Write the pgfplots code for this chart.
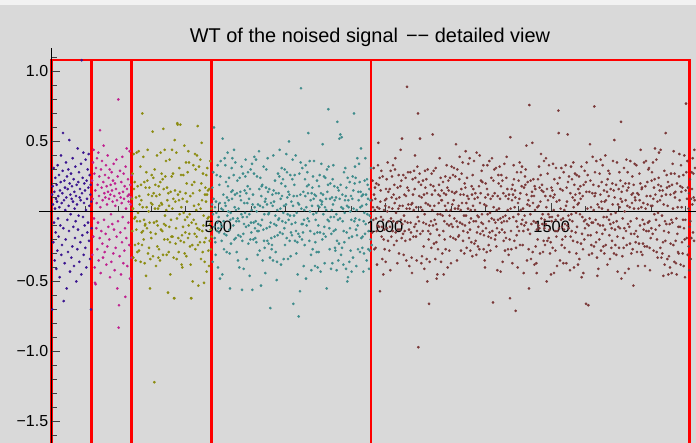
\documentclass[border=0pt]{standalone}
\usepackage{pgfplots}
\pgfplotsset{compat=1.18}
\usepackage{fontspec}
\setmainfont{Liberation Sans}
\definecolor{cblue}{RGB}{58,20,144}
\definecolor{cmag}{RGB}{192,32,143}
\definecolor{colive}{RGB}{140,140,16}
\definecolor{cteal}{RGB}{62,140,140}
\definecolor{cbrown}{RGB}{122,56,56}
\definecolor{bgc}{RGB}{217,217,217}
\definecolor{topc}{RGB}{242,242,242}
\begin{document}
\begin{tikzpicture}
\fill[bgc] (-39bp,0bp) rectangle (657bp,443bp);
\fill[topc] (-39bp,438bp) rectangle (657bp,443bp);
\begin{axis}[
  at={(0,0)}, anchor=south west,
  scale only axis, width=657bp, height=394.8bp,
  xmin=-38, xmax=1933, ymin=-1.654, ymax=1.166,
  axis lines=middle, axis line style={black, line width=0.8bp, -},
  axis on top, clip=true,
  tick align=inside,
  xtick={500,1000,1500}, xticklabels={500,1000,1500},
  minor xtick={100,200,300,400,600,700,800,900,1100,1200,1300,1400,1600,1700,1800,1900},
  ytick={-1.5,-1,-0.5,0.5,1}, yticklabels={−1.5,−1.0,−0.5,0.5,1.0},
  minor ytick={-1.6,-1.4,-1.3,-1.2,-1.1,-0.9,-0.8,-0.7,-0.6,-0.4,-0.3,-0.2,-0.1,0.1,0.2,0.3,0.4,0.6,0.7,0.8,0.9,1.1},
  major tick length=8bp, minor tick length=5bp,
  every tick/.style={black!75, line width=0.8bp},
  xticklabel style={font=\fontsize{16.5}{16.5}\selectfont, anchor=north, yshift=-6bp},
  yticklabel style={font=\fontsize{16}{16}\selectfont},
  every axis plot/.append style={mark size=1.2bp, line width=0.3bp},
]
\addplot[red, line width=2.6bp, line join=miter] coordinates {(0,-2)(0,1.083)(1913,1.083)(1913,-2)};
\addplot[red, line width=2.6bp] coordinates {(120,-2)(120,1.083)};
\addplot[red, line width=2.6bp] coordinates {(240,-2)(240,1.083)};
\addplot[red, line width=2.6bp] coordinates {(479,-2)(479,1.083)};
\addplot[red, line width=2.6bp] coordinates {(958,-2)(958,1.083)};
% blue level, x = 1..120
\addplot[only marks, mark=*, cblue] table[header=false, row sep=\\, x expr=\coordindex+1, y index=0] {
0.12\\-0.70\\0.18\\0.05\\-0.22\\0.31\\-0.08\\0.14\\-0.35\\0.02\\
0.24\\-0.15\\0.09\\-0.41\\0.19\\0.07\\-0.28\\0.33\\-0.05\\0.11\\
-0.18\\0.26\\0.03\\-0.47\\0.15\\-0.10\\0.21\\0.40\\-0.31\\0.06\\
-0.24\\0.13\\0.29\\0.56\\-0.12\\-0.64\\0.08\\0.22\\-0.37\\0.17\\
0.01\\-0.20\\0.35\\0.10\\-0.55\\0.25\\-0.06\\0.16\\-0.29\\0.30\\
0.04\\-0.14\\0.51\\0.20\\-0.43\\0.12\\-0.02\\0.27\\-0.33\\0.09\\
0.18\\-0.25\\0.38\\0.07\\-0.11\\0.23\\-0.39\\0.14\\0.02\\-0.19\\
0.32\\-0.07\\0.11\\-0.50\\0.19\\0.05\\-0.27\\0.45\\-0.13\\0.21\\
-0.03\\0.28\\-0.36\\0.10\\0.16\\-0.22\\0.08\\0.34\\-0.45\\1.08\\
0.13\\-0.17\\0.24\\-0.04\\0.42\\-0.31\\0.06\\0.20\\-0.10\\0.15\\
-0.26\\0.37\\0.01\\-0.40\\0.22\\0.09\\-0.15\\0.30\\-0.08\\0.17\\
0.41\\-0.21\\0.04\\0.26\\-0.34\\0.12\\0.19\\-0.70\\0.07\\-0.12\\
};
% magenta level, x = 121..240
\addplot[only marks, mark=*, cmag] table[header=false, row sep=\\, x expr=\coordindex+121, y index=0] {
0.22\\-0.31\\0.09\\0.35\\-0.18\\0.44\\-0.05\\0.27\\-0.40\\-0.51\\
0.15\\-0.52\\0.31\\-0.12\\0.06\\0.38\\-0.27\\0.19\\-0.08\\0.42\\
-0.35\\0.11\\0.25\\-0.19\\0.58\\0.03\\-0.44\\0.30\\-0.14\\0.17\\
0.36\\-0.23\\0.08\\-0.33\\0.21\\0.47\\-0.06\\0.13\\-0.29\\0.26\\
0.10\\-0.16\\0.33\\-0.38\\0.18\\0.05\\-0.25\\0.40\\0.14\\-0.11\\
0.24\\0.09\\-0.20\\0.30\\-0.47\\0.12\\0.19\\-0.02\\-0.36\\0.28\\
0.15\\-0.09\\0.07\\0.22\\-0.30\\0.34\\-0.13\\0.11\\-0.42\\0.20\\
0.04\\-0.26\\0.16\\0.37\\-0.18\\0.08\\-0.55\\0.25\\-0.07\\0.80\\
-0.83\\-0.67\\0.13\\-0.32\\0.29\\-0.15\\0.10\\-0.45\\0.21\\0.06\\
-0.22\\0.39\\-0.04\\0.14\\-0.37\\0.27\\0.09\\-0.28\\0.18\\-0.12\\
-0.61\\0.32\\0.02\\-0.19\\0.45\\0.16\\-0.39\\0.11\\0.23\\-0.08\\
0.07\\0.12\\-0.24\\0.43\\-0.48\\0.19\\0.05\\0.10\\-0.33\\0.26\\
};
% olive level, x = 241..480
\addplot[only marks, mark=*, colive] table[header=false, row sep=\\, x expr=\coordindex+241, y index=0] {
0.09\\-0.14\\0.27\\0.02\\-0.33\\0.41\\0.16\\-0.05\\0.21\\-0.24\\
-0.04\\-0.35\\0.10\\-0.13\\0.42\\-0.07\\-0.29\\0.18\\-0.01\\-0.23\\
0.43\\-0.28\\0.11\\0.05\\-0.07\\0.32\\-0.36\\0.19\\0.08\\-0.15\\
-0.24\\0.70\\0.03\\-0.14\\0.39\\-0.20\\-0.06\\0.21\\-0.37\\-0.10\\
-0.09\\0.17\\-0.46\\0.28\\0.03\\-0.12\\0.22\\0.44\\-0.30\\0.12\\
0.00\\-0.26\\0.17\\-0.08\\-0.55\\-0.34\\-0.15\\0.06\\-0.19\\0.26\\
0.11\\0.05\\0.57\\-0.32\\0.24\\0.13\\-0.08\\-1.22\\0.30\\0.02\\
0.19\\-0.16\\-0.39\\0.11\\-0.07\\0.40\\-0.25\\-0.10\\0.02\\-0.33\\
0.18\\-0.27\\0.04\\0.12\\-0.35\\0.21\\0.42\\-0.13\\0.06\\0.27\\
0.05\\-0.14\\0.23\\-0.31\\0.59\\0.16\\-0.09\\-0.20\\0.44\\-0.03\\
0.25\\-0.10\\0.36\\0.01\\-0.31\\0.17\\0.08\\-0.20\\-0.58\\0.13\\
-0.29\\0.04\\-0.11\\0.37\\-0.22\\-0.45\\0.14\\-0.06\\-0.18\\0.25\\
0.44\\0.02\\-0.18\\0.27\\0.09\\-0.33\\-0.62\\-0.62\\0.51\\0.15\\
0.07\\-0.23\\-0.12\\0.42\\-0.34\\-0.05\\0.63\\0.62\\0.12\\-0.19\\
-0.29\\0.08\\0.31\\-0.02\\0.14\\0.62\\-0.21\\0.26\\0.03\\-0.38\\
-0.17\\-0.40\\0.09\\-0.11\\0.26\\-0.01\\-0.22\\0.47\\-0.30\\-0.06\\
-0.15\\0.13\\0.35\\-0.32\\0.20\\0.07\\-0.04\\0.28\\-0.19\\0.43\\
-0.10\\0.35\\-0.16\\-0.02\\-0.25\\0.11\\-0.38\\-0.62\\-0.62\\-0.08\\
0.19\\-0.24\\-0.50\\0.13\\0.33\\-0.06\\0.04\\0.21\\-0.16\\0.41\\
-0.27\\0.30\\-0.09\\0.01\\-0.18\\0.40\\-0.12\\0.61\\-0.24\\-0.53\\
0.05\\0.32\\-0.13\\0.15\\-0.22\\0.37\\0.02\\-0.34\\0.20\\0.49\\
0.08\\-0.14\\-0.29\\0.27\\-0.10\\-0.03\\-0.51\\-0.22\\-0.36\\0.12\\
0.17\\-0.19\\0.07\\0.26\\-0.43\\0.12\\0.31\\-0.05\\0.15\\-0.28\\
-0.04\\-0.39\\0.16\\-0.21\\-0.09\\0.36\\-0.13\\-0.27\\0.02\\-0.18\\
};
% teal level, x = 481..960
\addplot[only marks, mark=*, cteal] table[header=false, row sep=\\, x expr=\coordindex+481, y index=0] {
0.05\\0.17\\-0.36\\-0.02\\0.28\\0.09\\0.60\\-0.11\\-0.19\\0.03\\
-0.22\\-0.31\\0.07\\-0.01\\0.26\\-0.14\\-0.08\\0.33\\-0.40\\-0.12\\
-0.04\\-0.15\\0.19\\0.06\\-0.48\\0.25\\0.36\\-0.09\\0.02\\-0.21\\
-0.11\\-0.45\\0.52\\0.01\\0.12\\-0.07\\-0.27\\-0.16\\0.38\\0.06\\
0.33\\0.04\\0.21\\-0.17\\-0.29\\0.10\\-0.03\\0.42\\0.18\\0.00\\
0.08\\0.24\\-0.13\\-0.30\\-0.55\\-0.06\\-0.01\\-0.23\\0.14\\0.31\\
0.09\\0.38\\0.15\\-0.05\\-0.10\\0.26\\0.44\\-0.20\\0.03\\0.12\\
0.35\\-0.19\\0.01\\-0.07\\-0.29\\0.13\\0.22\\-0.05\\-0.35\\-0.17\\
0.02\\-0.07\\-0.40\\0.24\\0.11\\0.14\\-0.18\\0.08\\-0.02\\0.32\\
-0.56\\-0.21\\-0.04\\0.27\\-0.16\\-0.41\\-0.09\\0.06\\0.15\\-0.01\\
0.25\\0.37\\-0.11\\0.13\\-0.34\\-0.04\\0.06\\0.18\\0.28\\-0.23\\
-0.10\\0.09\\-0.02\\-0.46\\0.16\\-0.20\\0.30\\-0.08\\-0.15\\0.01\\
0.34\\-0.56\\0.05\\0.12\\-0.20\\-0.08\\0.27\\0.39\\0.03\\-0.12\\
-0.19\\-0.07\\0.37\\-0.22\\0.00\\0.25\\-0.14\\-0.31\\0.05\\-0.09\\
-0.14\\0.43\\0.16\\-0.28\\0.04\\0.24\\-0.10\\-0.53\\0.11\\0.18\\
-0.06\\0.19\\-0.35\\0.03\\-0.13\\0.32\\-0.21\\-0.02\\-0.26\\0.07\\
-0.44\\0.09\\0.17\\0.30\\-0.12\\0.05\\-0.21\\0.38\\0.14\\-0.02\\
-0.23\\-0.01\\0.16\\-0.11\\-0.33\\-0.69\\-0.08\\0.06\\-0.19\\-0.27\\
-0.24\\0.12\\0.04\\-0.35\\0.40\\0.15\\0.07\\-0.09\\-0.18\\0.22\\
-0.03\\-0.29\\0.13\\-0.10\\-0.49\\-0.36\\0.01\\-0.17\\0.27\\-0.06\\
0.13\\-0.05\\0.25\\0.44\\-0.15\\0.02\\0.09\\-0.38\\0.20\\0.31\\
0.11\\-0.07\\-0.16\\0.23\\-0.01\\-0.34\\0.04\\-0.12\\0.30\\-0.24\\
0.18\\-0.08\\0.05\\0.41\\-0.19\\0.28\\0.10\\-0.02\\-0.34\\0.14\\
-0.06\\0.50\\0.12\\-0.21\\-0.03\\0.26\\-0.32\\-0.15\\0.07\\-0.09\\
-0.17\\0.23\\0.37\\0.04\\-0.66\\0.11\\-0.03\\0.19\\0.26\\-0.21\\
-0.08\\0.40\\-0.14\\-0.30\\-0.01\\0.11\\-0.22\\-0.45\\0.06\\-0.16\\
-0.75\\0.05\\0.27\\-0.18\\-0.57\\0.12\\0.35\\0.88\\0.02\\-0.09\\
-0.20\\0.31\\-0.09\\-0.15\\0.14\\-0.39\\-0.06\\0.01\\-0.24\\0.23\\
0.11\\0.33\\-0.48\\0.03\\-0.10\\0.18\\0.28\\-0.05\\0.13\\0.56\\
0.19\\-0.07\\-0.21\\0.36\\0.00\\-0.14\\0.08\\-0.31\\-0.42\\0.13\\
0.04\\0.17\\-0.27\\0.25\\-0.02\\0.09\\0.36\\-0.16\\0.12\\-0.39\\
-0.22\\-0.06\\0.11\\-0.01\\-0.29\\0.22\\-0.15\\-0.40\\0.04\\-0.10\\
-0.29\\0.18\\0.03\\0.26\\-0.15\\0.08\\-0.43\\0.13\\0.34\\0.05\\
0.07\\-0.20\\0.48\\0.12\\-0.02\\-0.16\\0.25\\-0.11\\-0.37\\0.03\\
0.24\\-0.18\\0.09\\0.01\\-0.55\\0.30\\0.14\\-0.06\\0.19\\0.73\\
0.32\\-0.07\\-0.12\\-0.27\\0.09\\0.20\\-0.04\\-0.41\\-0.16\\0.01\\
0.10\\-0.37\\0.23\\0.05\\0.33\\-0.14\\-0.04\\0.18\\0.08\\-0.26\\
-0.28\\-0.13\\0.10\\-0.02\\-0.42\\-0.21\\0.64\\0.17\\-0.06\\-0.35\\
0.15\\-0.23\\0.52\\0.09\\-0.05\\0.55\\0.19\\-0.31\\0.03\\0.53\\
-0.26\\0.12\\-0.07\\0.02\\-0.38\\-0.14\\0.28\\-0.22\\-0.01\\0.08\\
0.31\\0.11\\-0.41\\0.17\\-0.15\\0.04\\-0.50\\0.24\\-0.47\\0.08\\
0.03\\-0.19\\-0.36\\0.21\\-0.12\\0.00\\-0.28\\0.11\\-0.06\\-0.43\\
-0.18\\0.09\\0.25\\-0.33\\0.15\\0.02\\0.70\\-0.07\\0.20\\0.32\\
-0.05\\0.24\\-0.13\\-0.39\\0.01\\-0.17\\0.38\\-0.10\\-0.27\\0.14\\
0.08\\0.34\\-0.06\\0.21\\-0.29\\0.03\\0.14\\0.45\\-0.19\\0.11\\
0.04\\-0.26\\-0.18\\0.12\\-0.43\\-0.07\\-0.30\\-0.01\\0.22\\-0.16\\
0.38\\-0.09\\0.12\\0.05\\-0.35\\0.23\\-0.02\\0.19\\0.09\\-0.27\\
-0.14\\-0.41\\0.16\\-0.03\\-0.28\\0.08\\-0.20\\0.31\\-0.06\\-0.24\\
};
% brown level, x = 961..1930
\addplot[only marks, mark=*, cbrown] table[header=false, row sep=\\, x expr=\coordindex+961, y index=0] {
0.08\\-0.15\\0.22\\0.03\\-0.06\\0.31\\0.12\\-0.27\\0.01\\0.17\\
0.09\\-0.26\\-0.05\\0.20\\-0.14\\-0.38\\0.03\\-0.10\\0.33\\0.49\\
0.19\\-0.11\\0.02\\0.24\\-0.57\\0.07\\0.15\\-0.04\\0.29\\-0.18\\
-0.11\\-0.34\\0.25\\-0.06\\-0.45\\-0.20\\0.01\\-0.13\\-0.27\\0.08\\
0.04\\-0.36\\0.16\\0.09\\0.23\\-0.12\\0.00\\0.35\\-0.21\\0.14\\
-0.07\\0.03\\-0.28\\0.16\\-0.11\\-0.42\\0.29\\-0.05\\-0.18\\0.10\\
0.25\\0.02\\-0.14\\0.33\\-0.07\\0.12\\-0.24\\0.19\\0.06\\0.30\\
0.38\\-0.15\\-0.01\\0.09\\-0.21\\-0.08\\-0.37\\0.17\\-0.13\\0.02\\
0.26\\-0.30\\0.10\\0.04\\-0.13\\0.18\\0.44\\-0.06\\0.22\\-0.19\\
0.52\\-0.09\\0.04\\-0.16\\0.26\\-0.31\\-0.03\\0.12\\-0.14\\-0.07\\
-0.21\\0.24\\0.11\\-0.35\\0.02\\0.89\\0.17\\-0.08\\0.28\\0.05\\
0.15\\-0.13\\-0.39\\0.02\\-0.20\\0.28\\-0.08\\-0.15\\0.05\\-0.33\\
-0.44\\0.06\\0.23\\0.12\\-0.18\\0.01\\0.29\\-0.11\\0.16\\0.40\\
0.24\\-0.09\\-0.18\\0.03\\-0.35\\-0.14\\0.32\\-0.04\\0.70\\-0.97\\
0.21\\-0.07\\0.11\\0.27\\0.52\\-0.16\\0.03\\0.19\\-0.37\\0.10\\
-0.32\\0.01\\-0.14\\0.22\\-0.08\\-0.25\\0.12\\-0.41\\-0.02\\0.29\\
0.17\\0.06\\-0.09\\0.23\\-0.34\\0.13\\-0.50\\0.30\\0.05\\-0.14\\
-0.20\\-0.66\\-0.10\\-0.36\\0.04\\-0.16\\0.19\\-0.07\\-0.26\\0.27\\
0.12\\0.01\\0.55\\-0.10\\0.18\\0.29\\-0.23\\0.04\\-0.06\\0.15\\
-0.34\\0.31\\-0.09\\-0.22\\-0.48\\-0.13\\-0.45\\-0.02\\-0.27\\0.12\\
0.06\\0.19\\-0.17\\0.38\\0.11\\-0.02\\0.24\\-0.36\\0.08\\0.15\\
0.08\\-0.30\\-0.03\\0.21\\-0.14\\-0.45\\0.13\\-0.07\\-0.20\\0.04\\
0.25\\-0.27\\0.12\\0.01\\0.33\\-0.09\\0.17\\-0.40\\0.06\\0.22\\
0.15\\-0.10\\-0.28\\-0.03\\0.24\\-0.18\\0.01\\-0.37\\-0.09\\0.32\\
0.14\\0.05\\-0.11\\0.26\\-0.19\\0.08\\0.31\\-0.05\\0.13\\0.02\\
0.25\\-0.20\\0.48\\0.14\\-0.07\\-0.35\\0.30\\-0.11\\0.02\\-0.18\\
0.04\\-0.17\\0.23\\0.39\\-0.08\\0.12\\0.01\\-0.28\\0.16\\0.27\\
0.06\\-0.09\\0.35\\-0.21\\-0.14\\0.12\\-0.03\\-0.30\\0.20\\-0.10\\
0.17\\0.43\\-0.03\\0.06\\-0.26\\0.24\\0.11\\-0.15\\0.02\\0.34\\
0.09\\-0.19\\-0.08\\0.38\\-0.13\\-0.28\\0.01\\-0.05\\-0.22\\0.18\\
0.12\\-0.32\\0.26\\0.04\\0.16\\-0.07\\0.36\\-0.23\\0.09\\0.01\\
0.13\\-0.21\\-0.07\\-0.31\\0.42\\-0.15\\-0.03\\0.10\\-0.25\\-0.11\\
-0.04\\0.18\\-0.27\\0.40\\0.06\\-0.16\\0.13\\0.22\\-0.08\\0.29\\
-0.02\\0.21\\-0.14\\-0.09\\0.33\\-0.27\\-0.17\\0.05\\-0.35\\-0.40\\
0.10\\0.20\\-0.12\\0.04\\-0.29\\0.16\\0.33\\-0.02\\0.12\\-0.18\\
-0.24\\-0.07\\0.36\\-0.15\\-0.01\\-0.28\\0.09\\-0.19\\0.24\\-0.05\\
0.38\\-0.14\\0.11\\-0.65\\0.22\\0.03\\-0.06\\0.30\\0.13\\-0.20\\
-0.08\\-0.17\\0.31\\-0.25\\0.01\\-0.12\\-0.42\\0.11\\-0.06\\0.26\\
0.20\\0.02\\-0.15\\0.32\\0.09\\-0.05\\-0.43\\0.18\\0.26\\-0.08\\
-0.13\\0.22\\-0.36\\-0.04\\0.13\\-0.21\\-0.07\\0.34\\-0.15\\-0.28\\
-0.03\\0.11\\-0.19\\0.24\\0.39\\-0.07\\0.16\\0.01\\-0.27\\0.09\\
-0.31\\0.12\\-0.05\\-0.20\\-0.62\\0.53\\0.02\\-0.14\\-0.27\\0.16\\
0.08\\-0.37\\0.19\\0.12\\-0.04\\0.33\\0.23\\-0.21\\0.03\\0.15\\
0.10\\-0.71\\-0.26\\-0.07\\-0.17\\0.28\\-0.11\\-0.40\\0.06\\-0.02\\
0.22\\-0.14\\0.09\\0.35\\-0.24\\0.13\\0.01\\0.28\\-0.09\\0.18\\
0.32\\-0.06\\-0.24\\0.02\\-0.14\\-0.44\\0.17\\-0.10\\-0.03\\0.25\\
0.19\\0.30\\-0.08\\0.47\\0.12\\-0.35\\0.05\\0.21\\-0.13\\0.08\\
-0.27\\-0.55\\0.76\\0.04\\-0.16\\-0.02\\0.22\\-0.34\\-0.09\\0.11\\
0.14\\0.49\\-0.29\\0.06\\0.23\\-0.07\\0.11\\-0.38\\0.18\\0.01\\
0.16\\-0.25\\-0.08\\-0.37\\-0.44\\-0.13\\0.03\\-0.20\\0.23\\-0.10\\
0.04\\0.32\\-0.12\\0.17\\-0.30\\0.07\\0.26\\0.41\\-0.05\\0.15\\
0.19\\-0.09\\-0.02\\-0.29\\0.14\\-0.21\\0.36\\-0.12\\-0.06\\-0.24\\
0.11\\-0.09\\0.38\\0.03\\-0.50\\0.16\\-0.21\\0.27\\0.08\\-0.02\\
-0.19\\0.33\\-0.13\\-0.04\\-0.30\\0.11\\-0.22\\-0.45\\0.17\\-0.07\\
-0.04\\0.15\\-0.26\\0.34\\0.10\\0.01\\-0.44\\0.23\\0.12\\-0.14\\
-0.28\\-0.06\\0.31\\-0.18\\0.07\\-0.39\\-0.14\\0.20\\-0.03\\0.72\\
0.56\\-0.12\\0.08\\0.24\\-0.35\\0.16\\0.02\\-0.06\\0.31\\-0.24\\
-0.11\\-0.20\\0.15\\-0.05\\-0.37\\0.28\\-0.13\\0.01\\-0.26\\-0.09\\
-0.18\\0.33\\0.04\\-0.37\\0.17\\0.07\\-0.10\\0.55\\0.21\\-0.03\\
-0.12\\0.25\\-0.29\\-0.06\\-0.42\\0.13\\-0.18\\0.32\\-0.02\\-0.14\\
0.23\\-0.07\\0.10\\-0.21\\0.35\\0.03\\-0.40\\0.19\\0.08\\0.27\\
0.12\\-0.15\\-0.01\\-0.30\\0.26\\-0.11\\-0.22\\0.05\\-0.38\\0.16\\
0.06\\0.25\\-0.34\\0.13\\-0.02\\0.18\\0.09\\-0.23\\0.32\\-0.47\\
-0.16\\-0.04\\0.11\\-0.27\\-0.44\\0.19\\-0.07\\-0.20\\0.29\\-0.12\\
-0.06\\0.21\\-0.66\\0.14\\0.35\\-0.09\\0.02\\0.26\\-0.17\\-0.67\\
-0.10\\-0.31\\0.14\\-0.05\\0.48\\0.22\\-0.17\\0.03\\-0.24\\-0.08\\
-0.30\\0.13\\0.39\\-0.08\\0.19\\0.01\\-0.25\\0.75\\0.11\\0.28\\
0.13\\-0.06\\-0.22\\0.36\\-0.15\\-0.33\\-0.46\\0.05\\-0.09\\-0.41\\
0.18\\0.03\\-0.20\\0.27\\-0.10\\0.12\\0.37\\-0.28\\0.07\\0.21\\
0.02\\-0.16\\0.33\\-0.10\\-0.25\\-0.04\\0.15\\-0.30\\0.07\\-0.13\\
0.40\\-0.24\\0.08\\0.19\\-0.04\\0.14\\-0.38\\0.23\\0.01\\0.29\\
0.11\\-0.06\\-0.17\\0.27\\-0.34\\-0.09\\0.16\\-0.02\\-0.26\\-0.12\\
-0.21\\0.20\\0.05\\0.36\\-0.08\\0.15\\-0.30\\0.51\\0.10\\-0.13\\
-0.24\\-0.01\\0.19\\-0.31\\-0.07\\0.35\\-0.18\\-0.43\\0.05\\-0.11\\
0.16\\-0.26\\0.28\\0.03\\-0.12\\0.22\\0.09\\0.64\\-0.48\\0.14\\
0.07\\-0.32\\-0.05\\0.18\\-0.19\\-0.26\\0.31\\-0.12\\0.00\\-0.44\\
0.20\\0.08\\-0.14\\0.37\\-0.24\\0.15\\0.04\\0.28\\-0.09\\0.17\\
-0.41\\0.20\\-0.11\\0.03\\-0.23\\0.36\\-0.07\\-0.16\\-0.30\\0.12\\
0.06\\0.25\\-0.27\\0.13\\-0.53\\0.19\\0.02\\-0.16\\0.34\\0.10\\
0.08\\-0.22\\-0.14\\0.33\\-0.05\\-0.29\\0.13\\-0.18\\-0.39\\0.02\\
0.12\\-0.23\\0.27\\0.08\\-0.10\\0.20\\0.44\\-0.29\\0.03\\0.16\\
0.17\\-0.31\\-0.06\\-0.23\\0.06\\-0.13\\0.35\\-0.09\\-0.25\\-0.39\\
0.18\\0.02\\0.36\\-0.14\\0.11\\-0.25\\0.21\\0.05\\-0.08\\0.30\\
-0.14\\0.31\\-0.07\\-0.26\\-0.42\\0.11\\-0.19\\0.04\\-0.12\\0.22\\
0.28\\0.04\\-0.16\\0.35\\0.09\\-0.28\\0.17\\-0.02\\0.23\\0.45\\
0.12\\-0.13\\-0.06\\0.37\\-0.29\\-0.20\\0.07\\-0.33\\-0.01\\0.19\\
0.24\\0.42\\-0.10\\0.15\\0.08\\-0.26\\0.44\\0.18\\-0.33\\0.11\\
-0.03\\-0.30\\0.15\\-0.22\\-0.46\\0.05\\-0.14\\0.29\\-0.38\\-0.07\\
-0.21\\0.56\\0.12\\-0.09\\0.26\\0.17\\-0.34\\0.04\\0.21\\-0.45\\
-0.15\\-0.32\\0.18\\-0.09\\-0.40\\0.12\\-0.23\\0.27\\-0.06\\-0.44\\
0.19\\-0.08\\0.34\\0.02\\-0.24\\0.43\\0.13\\-0.36\\0.27\\0.10\\
0.14\\-0.21\\-0.37\\-0.05\\-0.45\\0.20\\-0.16\\0.03\\-0.29\\-0.11\\
-0.30\\0.25\\0.41\\0.08\\-0.11\\0.18\\-0.38\\0.33\\0.14\\0.03\\
-0.22\\0.17\\-0.30\\-0.06\\0.26\\-0.39\\-0.12\\0.40\\-0.20\\-0.47\\
-0.06\\0.15\\0.77\\0.28\\-0.19\\0.09\\0.36\\-0.31\\0.17\\0.02\\
-0.25\\0.13\\-0.42\\-0.11\\0.23\\-0.07\\-0.34\\0.09\\-0.19\\0.28\\
0.16\\0.05\\0.38\\-0.15\\0.27\\0.10\\-0.21\\0.44\\0.08\\0.31\\
};
\end{axis}
\node[anchor=base, font=\fontsize{20}{20}\selectfont, inner sep=0pt] at (331bp,400.3bp) {WT of the noised signal\hspace{8bp}−−\ detailed view};
\pgfresetboundingbox
\useasboundingbox (-39bp,0bp) rectangle (657bp,443bp);
\end{tikzpicture}
\end{document}
